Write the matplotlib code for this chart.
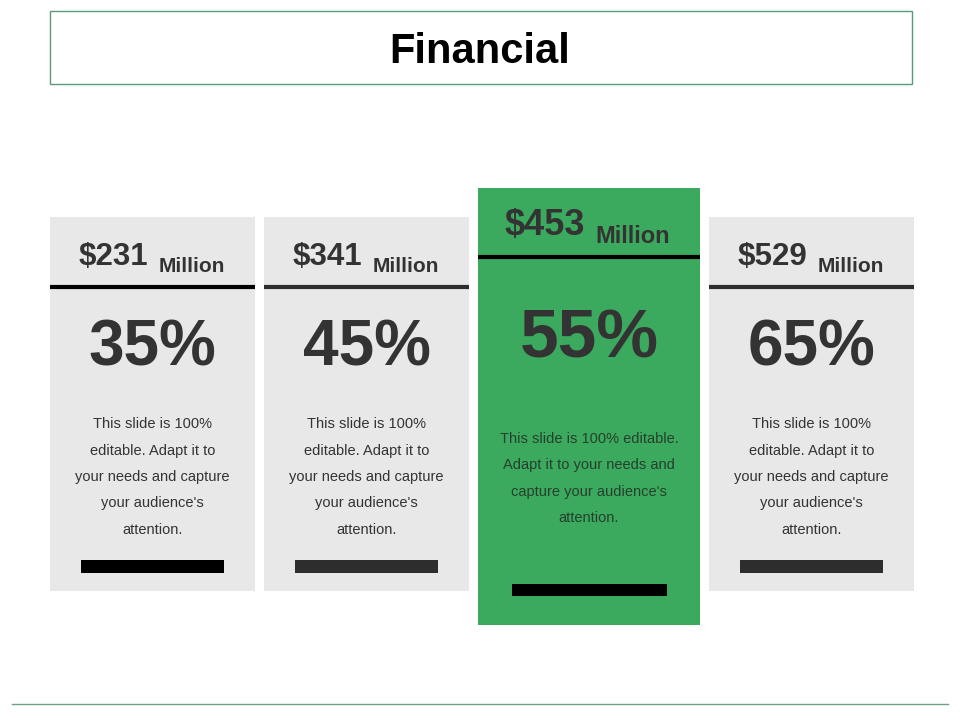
import textwrap
import matplotlib
matplotlib.use('Agg')
import matplotlib.pyplot as plt
from matplotlib.patches import Rectangle

plt.rcParams['font.family'] = ['Liberation Sans', 'DejaVu Sans']

# card data
amounts = ['$231', '$341', '$453', '$529']
unit = 'Million'
percents = ['35%', '45%', '55%', '65%']
highlight = [False, False, True, False]
divider_colors = ['#000000', '#2d2d2d', '#000000', '#2d2d2d']
bar_colors = ['#000000', '#2d2d2d', '#000000', '#2d2d2d']
description = "This slide is 100% editable. Adapt it to your needs and capture your audience's attention."
title = 'Financial'

GRAY = '#e8e8e8'
GREEN = '#3caa5e'
TEXT = '#333333'

fig = plt.figure(figsize=(9.6, 7.2), dpi=100)
ax = fig.add_axes([0, 0, 1, 1])
ax.set_xlim(0, 960)
ax.set_ylim(720, 0)
ax.axis('off')

# title box
ax.add_patch(Rectangle((49.5, 10.5), 862, 73, fill=False, edgecolor='#5a9a78', lw=1))
ax.text(480, 63, title, ha='center', va='baseline', fontsize=30, fontweight='bold', color='#000000')

# bottom rule
ax.plot([12, 948], [704, 704], color='#6a9f80', lw=1)

x = 50
for i in range(len(amounts)):
    hl = highlight[i]
    w = 222 if hl else 205
    cx = x + w / 2
    if hl:
        top, bottom = 188, 625
        div_y = 256.5
        amt_base, unit_base = 235, 243
        amt_fs, unit_fs = 26, 17
        pct_base, pct_fs = 357, 50
        lines = textwrap.wrap(description, 28)
        line_y0 = 439
        bar = (cx - 77.5, 584, 155, 12)
        face = GREEN
        body_color = '#24402d'
    else:
        top, bottom = 217, 591
        div_y = 287
        amt_base, unit_base = 265, 272
        amt_fs, unit_fs = 22.5, 15
        pct_base, pct_fs = 366, 46
        lines = textwrap.wrap(description, 22)
        line_y0 = 424
        bar = (cx - 71.5, 560, 143, 13)
        face = GRAY
        body_color = TEXT

    ax.add_patch(Rectangle((x, top), w, bottom - top, facecolor=face, edgecolor='none'))
    ax.plot([x, x + w], [div_y, div_y], color=divider_colors[i], lw=3, solid_capstyle='butt')

    # header: amount + unit
    ax.text(cx - 4, amt_base, amounts[i], ha='right', va='baseline',
            fontsize=amt_fs, fontweight='bold', color=TEXT)
    ax.text(cx + 6.5, unit_base, unit, ha='left', va='baseline',
            fontsize=unit_fs, fontweight='bold', color=TEXT)

    # big percentage
    ax.text(cx, pct_base, percents[i], ha='center', va='baseline',
            fontsize=pct_fs, fontweight='bold', color=TEXT)

    # description lines
    for k, line in enumerate(lines):
        ax.text(cx, line_y0 + k * 26.5, line, ha='center', va='center',
                fontsize=10.5, color=body_color)

    ax.add_patch(Rectangle(bar[:2], bar[2], bar[3], facecolor=bar_colors[i], edgecolor='none'))

    x += w + 9

fig.savefig('out.png', dpi=100)
